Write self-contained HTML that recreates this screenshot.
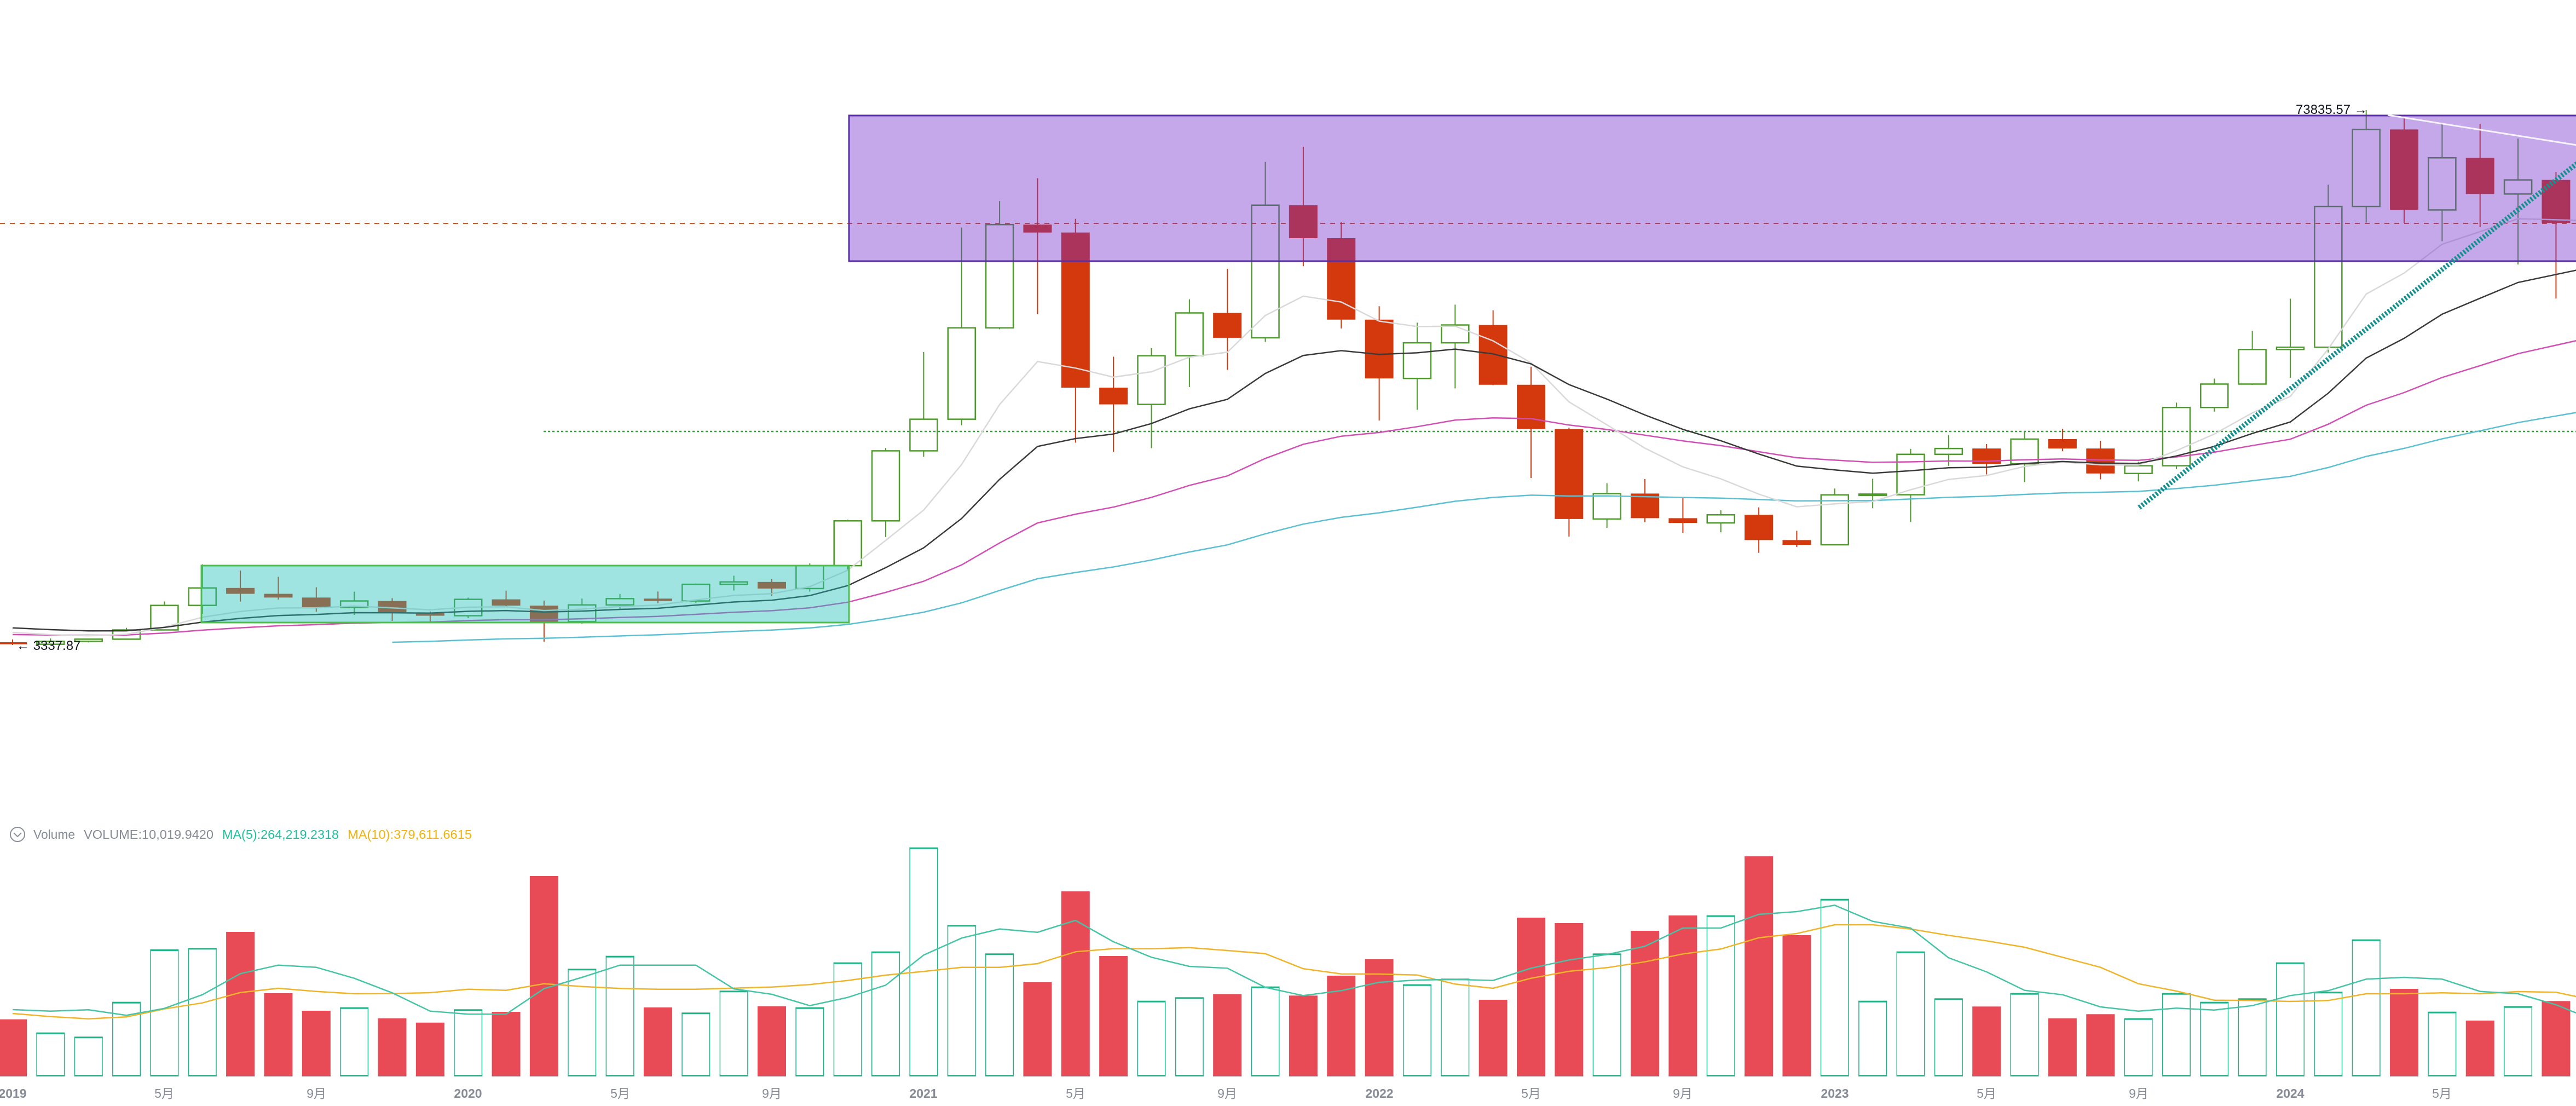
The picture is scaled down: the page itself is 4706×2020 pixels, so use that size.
<!DOCTYPE html>
<html>
<head>
<meta charset="utf-8">
<style>
html,body{margin:0;padding:0;background:#ffffff;}
svg{display:block;}
text{font-family:"Liberation Sans","Noto Sans CJK SC",sans-serif;}
</style>
</head>
<body>
<svg id="chart" xmlns="http://www.w3.org/2000/svg" width="4706" height="2020" viewBox="0 0 4706 2020">
  <rect x="0" y="0" width="4706" height="2020" fill="#ffffff"/>
  <!-- reference lines under candles -->
  <g id="under">
    <line x1="0" y1="408" x2="4706" y2="408" stroke="#d5551c" stroke-width="2" stroke-dasharray="9 9"/>
    <line x1="993" y1="788" x2="4706" y2="788" stroke="#3c9a3c" stroke-width="2.5" stroke-dasharray="4 4"/>
  </g>
  <g id="candles"></g>
  <g id="mas"></g>
  <!-- boxes -->
  <g id="boxes">
    <rect x="1551" y="211" width="3300" height="266" fill="rgb(114,48,205)" fill-opacity="0.42"/>
    <rect x="1551" y="211" width="3300" height="266" fill="none" stroke="#5a2ea4" stroke-width="3"/>
    <rect x="368" y="1033" width="1183" height="104" fill="rgb(29,190,186)" fill-opacity="0.42"/>
    <rect x="368" y="1033" width="1183" height="104" fill="none" stroke="#4cbe4c" stroke-width="3"/>
  </g>
  <g id="over">
    <line x1="3908" y1="927" x2="4720" y2="289" stroke="#16908f" stroke-width="9" stroke-dasharray="3.5 3"/>
    <line x1="4362" y1="210" x2="4720" y2="267" stroke="#f6f2fb" stroke-width="3"/>
  </g>
  <g id="vol"></g>
  <g id="volma"></g>

  <!-- price labels -->
  <text x="4194" y="208" font-size="24" fill="#131722">73835.57 →</text>
  <text x="30" y="1187" font-size="24" fill="#131722">← 3337.87</text>

  <!-- volume legend -->
  <circle cx="32" cy="1524" r="13" fill="none" stroke="#8a8f9a" stroke-width="2"/>
  <polyline points="25,1521 32,1528 39,1521" fill="none" stroke="#8a8f9a" stroke-width="2"/>
  <text x="61" y="1532" font-size="23" fill="#868b96" textLength="76" lengthAdjust="spacingAndGlyphs">Volume</text>
  <text x="153" y="1532" font-size="23" fill="#868b96" textLength="237" lengthAdjust="spacingAndGlyphs">VOLUME:10,019.9420</text>
  <text x="406" y="1532" font-size="23" fill="#22bf9f" textLength="213" lengthAdjust="spacingAndGlyphs">MA(5):264,219.2318</text>
  <text x="635" y="1532" font-size="23" fill="#f0b20c" textLength="227" lengthAdjust="spacingAndGlyphs">MA(10):379,611.6615</text>

  <!-- x axis labels -->
  <g font-size="23" fill="#868b96" text-anchor="middle">
    <text x="23" y="2005" font-weight="bold">2019</text>
    <text x="300" y="2005">5月</text>
    <text x="578" y="2005">9月</text>
    <text x="855" y="2005" font-weight="bold">2020</text>
    <text x="1133" y="2005">5月</text>
    <text x="1410" y="2005">9月</text>
    <text x="1687" y="2005" font-weight="bold">2021</text>
    <text x="1965" y="2005">5月</text>
    <text x="2242" y="2005">9月</text>
    <text x="2520" y="2005" font-weight="bold">2022</text>
    <text x="2797" y="2005">5月</text>
    <text x="3074" y="2005">9月</text>
    <text x="3352" y="2005" font-weight="bold">2023</text>
    <text x="3629" y="2005">5月</text>
    <text x="3907" y="2005">9月</text>
    <text x="4184" y="2005" font-weight="bold">2024</text>
    <text x="4461" y="2005">5月</text>
  </g>
</svg>
<script>
(function(){
var NS="http://www.w3.org/2000/svg";
var O=[3701.23,3434.10,3814.26,4102.44,5321.94,8556.44,10854.10,10080.53,9588.74,8289.97,9140.86,7540.63,7195.24,9351.71,8523.61,6412.14,8620,9448.27,9138.08,11335.46,11649.51,10776.59,13791,19695.87,28923.63,33092.97,45134.11,58739.46,57697.25,37253.82,35045,41461.84,47100.89,43820.01,61299.81,56950.56,46216.93,38466.9,43160,45510.35,37631.83,31801.05,19942.21,23296.36,20048.44,19422.61,20490.74,17165.53,16541.77,23125.13,23141.57,28465.36,29233.2,27210.36,30471.99,29232.26,25940.77,26962.57,34639.78,37723.97,42283.58,42580,61130.99,71280,60672.01,67540.01,62772.01,64628.01];
var H=[4069.8,4198,4140,5600,9074.26,13970,13147,12325,10948,10370,9513.68,7750,9578.26,10500,9188,9460,10067,10380,11444,12468,12050.85,14100,19863.16,29300,41950,58352.8,61844,64854,59500,41330,42448,48890,52920,67000,69000,59053.55,47990,45821,48189.84,47444.11,40023.77,31986.1,24668,25211.32,22799,21085,21480.65,18387.95,23960.54,25250,29184.68,31000,29820.5,31431.94,31804.2,30244,27483.57,35280,38450,44729.58,48969.48,64000,73835.57,72797.99,71979,71997.02,70079.99,65659.78];
var L=[3337.87,3373.1,3670.69,4067,5316.2,7444.58,9055,9320,7710,7300,6515,6435,6871,8445,3782.13,6150.11,8117,8833,8893.03,10518.5,9825,10374,13195.05,17572.33,28130,32296.16,44950.53,46930,30000,28805,29278,37332.7,39600,43283.03,53256.64,45050,32917.17,34322.28,37155,37578.2,25350,17622,18781,19520,18125.98,18190,15476,16256.3,16499.01,21351.07,19549.09,26942.82,25811.46,24800,28861.9,25166,24901,26538.66,34097.39,37615.86,38555,41884.28,59005,58970,56555,58402,53485.93,49000];
var C=[3434.10,3813.69,4105.40,5320.81,8555,10854.10,10080.53,9588.74,8289.34,9140.85,7540.63,7195.23,9352.89,8523.61,6410.44,8620,9448.27,9138.55,11335.46,11649.51,10776.59,13791,19695.87,28923.63,33092.98,45135.66,58740.55,57694.27,37253.81,35045,41461.83,47100.89,43824.1,61299.8,56950.56,46216.93,38466.9,43160,45510.34,37630.8,31801.04,19942.21,23293.32,20050.02,19422.61,20490.74,17163.64,16542.4,23125.13,23141.57,28465.36,29233.21,27210.35,30472,29232.25,25940.78,26962.56,34639.77,37723.96,42283.58,42580,61130.98,71280.01,60672,67540.01,62772.01,64628,58973.99];
var N=C.length;
function X(i){return 23+69.35*i;}
function Y(p){return 1178-(p-3337.87)*0.0138585;}
function el(tag,attrs,parent){var e=document.createElementNS(NS,tag);for(var k in attrs)e.setAttribute(k,attrs[k]);parent.appendChild(e);return e;}
var G="#4d9b2b",R="#d4380d";
var cg=document.getElementById("candles");
for(var i=0;i<N;i++){
  var x=X(i),o=Y(O[i]),c=Y(C[i]),h=Y(H[i]),l=Y(L[i]);
  if(C[i]>=O[i]){
    var top=c,bot=o; if(bot-top<2.5){var m=(top+bot)/2;top=m-1.25;bot=m+1.25;}
    el("line",{x1:x,y1:h,x2:x,y2:top,stroke:G,"stroke-width":2},cg);
    el("line",{x1:x,y1:bot,x2:x,y2:l,stroke:G,"stroke-width":2},cg);
    el("rect",{x:x-25,y:top,width:50,height:bot-top,fill:"none",stroke:G,"stroke-width":2.5},cg);
  }else{
    var t2=o,b2=c; if(b2-t2<3){var m2=(t2+b2)/2;t2=m2-1.5;b2=m2+1.5;}
    el("line",{x1:x,y1:h,x2:x,y2:l,stroke:R,"stroke-width":2},cg);
    el("rect",{x:x-26,y:t2,width:52,height:b2-t2,fill:R},cg);
  }
}
// EMA lines
function ema(alpha,seedIdx,seed){
  var v=seed,pts=[[X(seedIdx),Y(v)]];
  for(var i=seedIdx+1;i<N;i++){v=v+alpha*(C[i]-v);pts.push([X(i),Y(v)]);}
  var a=pts[pts.length-2],b=pts[pts.length-1];
  pts.push([4712,b[1]+(b[1]-a[1])*(4712-b[0])/(b[0]-a[0])]);
  return pts.map(function(p){return p[0].toFixed(1)+","+p[1].toFixed(1);}).join(" ");
}
var mg=document.getElementById("mas");
el("polyline",{points:ema(2/61,10,3699),fill:"none",stroke:"#5bc0d2","stroke-width":2.5},mg);
el("polyline",{points:ema(2/31,0,4709),fill:"none",stroke:"#d24fb4","stroke-width":2.5},mg);
el("polyline",{points:ema(0.25,0,4997.5),fill:"none",stroke:"#d9d9d9","stroke-width":2.5},mg);
el("polyline",{points:ema(2/15,0,5596),fill:"none",stroke:"#3a3a3a","stroke-width":2.5},mg);
// volume
var VT=[1861.7,1886.7,1894.3,1830.7,1735,1732.3,1702,1814,1846,1840.7,1860,1867.7,1844.3,1848,1600,1770.3,1746.7,1840,1850.3,1810.3,1838,1840.7,1758.7,1738.7,1548.7,1690.3,1742.3,1794,1628,1746,1828.7,1822.3,1815.7,1802.7,1818.3,1782,1752,1798.7,1788.3,1826,1676,1686,1742.3,1700,1672,1672.7,1564,1708,1642.7,1828.7,1738.7,1824.3,1838.3,1814.7,1860,1852.3,1860.7,1814.7,1830.7,1824.3,1758.7,1812.3,1716.7,1806,1848.7,1864,1838.7,1828.3];
var BASE=1965;
var vg=document.getElementById("vol");
var VG="#1fb488",VR="#e84a56";
for(var j=0;j<N;j++){
  var vx=X(j),vt=VT[j];
  if(C[j]>=O[j]){
    el("rect",{x:vx-25.25,y:vt,width:50.5,height:BASE-vt,fill:"#ffffff",stroke:VG,"stroke-width":1.5},vg);
    el("rect",{x:vx-26,y:vt-1,width:52,height:3,fill:VG},vg);
    el("rect",{x:vx-26,y:BASE-2,width:52,height:3,fill:VG},vg);
  }else{
    el("rect",{x:vx-26,y:vt,width:52,height:BASE-vt+1,fill:VR},vg);
    el("rect",{x:vx-26,y:BASE-2,width:52,height:3,fill:"#c9505c"},vg);
  }
}
var M5=[1844,1846.7,1844.3,1854.3,1841.7,1816.7,1778.3,1762.7,1766.7,1786.7,1813.3,1846.7,1852.3,1852.3,1805.7,1785,1762.7,1762.7,1762.7,1806,1816,1836.7,1821.7,1799.3,1744.3,1713.3,1696.7,1702.7,1681,1720,1748.3,1765,1768.3,1803.3,1818.3,1809.3,1794,1790,1788.7,1790.7,1768.3,1753.3,1743.3,1728.3,1695,1695,1670,1665,1653.3,1682.7,1695,1749.3,1775,1808.7,1816.7,1839,1846.7,1841.3,1844.7,1836.7,1818.3,1809.3,1788.3,1785,1788.3,1810.7,1815,1835];
var M10=[1851,1856.7,1860.7,1857.3,1842.7,1831.7,1812.7,1805,1810.7,1815,1814.7,1813,1806.7,1808.7,1796.7,1801.7,1805.3,1806.7,1806.7,1804.7,1802.7,1798.3,1790.7,1781,1774.3,1766.7,1766.7,1760,1738.3,1732.7,1732.7,1730.7,1736,1741.7,1769.3,1778.7,1779,1780.7,1797.3,1805,1786.7,1774,1767.3,1756.7,1742.3,1733.3,1712.7,1705,1689,1689,1696.7,1708.3,1718.3,1730,1748.3,1766.7,1796.7,1810,1826.7,1827.3,1829,1827.3,1815,1815,1813.3,1815,1811,1812.3];
function pl(arr,edge){var s=arr.map(function(v,k){return X(k).toFixed(1)+","+v;});s.push("4706,"+edge);return s.join(" ");}
var vm=document.getElementById("volma");
el("polyline",{points:pl(M10,1820),fill:"none",stroke:"#f0b429","stroke-width":2.5},vm);
el("polyline",{points:pl(M5,1850),fill:"none",stroke:"#45c4a6","stroke-width":2.5},vm);
})();
</script>
</body>
</html>
